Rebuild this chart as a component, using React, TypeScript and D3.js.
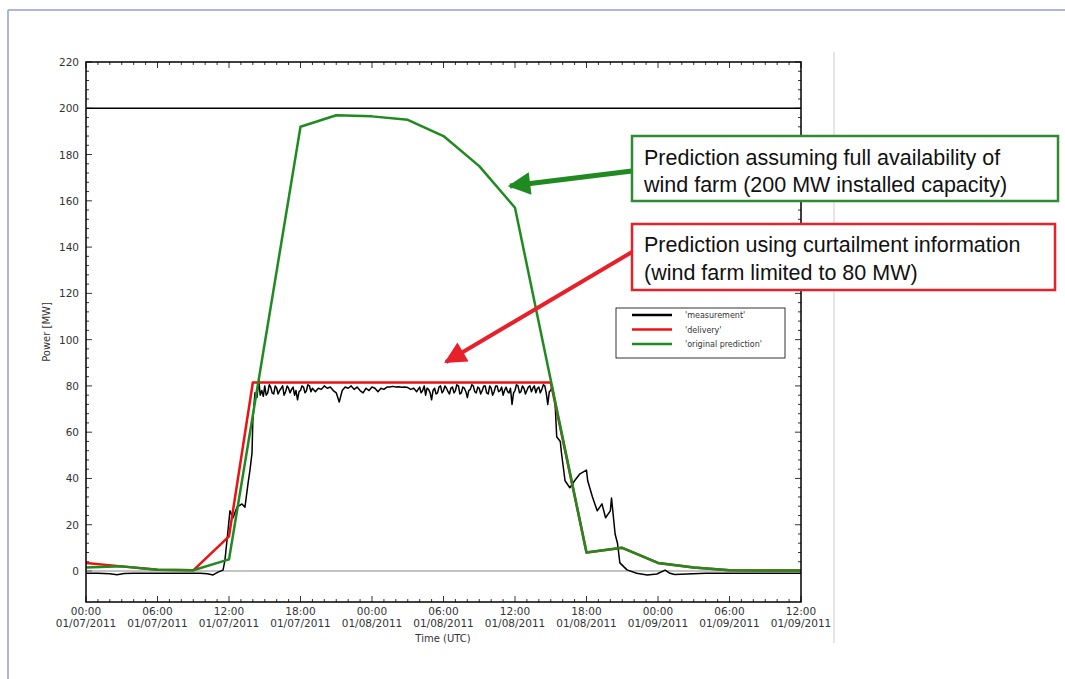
import React from "react";
import * as d3 from "d3";

// hours since 00:00 01/07/2011
const xTickLabels: [number, string, string][] = [
  [0, "00:00", "01/07/2011"],
  [6, "06:00", "01/07/2011"],
  [12, "12:00", "01/07/2011"],
  [18, "18:00", "01/07/2011"],
  [24, "00:00", "01/08/2011"],
  [30, "06:00", "01/08/2011"],
  [36, "12:00", "01/08/2011"],
  [42, "18:00", "01/08/2011"],
  [48, "00:00", "01/09/2011"],
  [54, "06:00", "01/09/2011"],
  [60, "12:00", "01/09/2011"],
];
const yTicks = [0, 20, 40, 60, 80, 100, 120, 140, 160, 180, 200, 220];

const originalPrediction: [number, number][] = [
  [0, 1.5], [3, 2], [6, 0.5], [9, 0.3], [12, 5], [18, 192], [21, 197], [24, 196.5],
  [27, 195], [30, 188], [33, 175], [36, 157], [42, 8], [45, 10], [48, 3.5],
  [51, 1.5], [54, 0.3], [60, 0.2],
];

const delivery: [number, number][] = [
  [0, 3.5], [3, 2], [6, 0.5], [9, 0.3], [12, 15], [14, 81.5], [39, 81.5],
  [42, 8], [45, 10], [48, 3.5], [51, 1.5], [54, 0.3], [60, 0.2],
];

const measurement: [number, number][] = [
  [0, -1], [1, -1], [2, -1.2], [2.6, -1.6], [3.2, -1.1], [4, -1], [6, -1], [8, -1], [9.57, -1],
  [10.2, -1.2], [10.66, -1.7], [11.08, -0.5], [11.5, 0.4], [11.66, 4.7], [11.92, 17.7],
  [12.08, 26], [12.34, 23], [12.67, 27.6], [13.09, 29], [13.34, 27.6], [13.6, 38],
  [13.76, 43.6], [13.93, 51], [14.0, 65], [14.18, 77], [14.35, 75], [14.5, 82.5],
  [14.62, 76], [14.75, 78], [14.88, 75.5], [15.0, 80], [15.12, 76], [15.25, 77],
  [15.38, 80.5], [15.5, 79.5], [15.62, 77], [15.75, 76.5], [15.88, 80], [16.0, 79],
  [16.12, 76.5], [16.25, 78], [16.38, 79], [16.5, 80], [16.62, 76], [16.75, 77.5],
  [16.88, 80], [17.0, 79], [17.12, 77], [17.25, 78.5], [17.38, 79.5], [17.5, 76],
  [17.62, 78], [17.75, 74], [17.88, 77.5], [18.0, 78], [18.12, 80], [18.25, 79.5],
  [18.38, 77], [18.5, 78], [18.62, 80.5], [18.75, 80], [18.88, 77.5], [19.0, 79],
  [19.25, 77.5], [19.5, 79], [19.75, 78.5], [20.0, 80], [20.25, 79], [20.5, 79.5],
  [20.75, 78], [21.0, 77], [21.25, 73], [21.5, 78], [21.75, 79.5], [22.0, 79],
  [22.25, 80], [22.5, 78.5], [22.75, 79.5], [23.0, 78], [23.25, 77], [23.5, 79],
  [23.75, 78], [24.0, 79.5], [24.25, 79], [24.5, 77.5], [24.75, 79], [25.0, 78.5],
  [25.25, 79.5], [25.5, 79.5], [25.75, 79.8], [26.0, 79.5], [26.25, 79.6], [26.5, 79.4],
  [26.75, 79.5], [27.0, 79.3], [27.25, 78.5], [27.5, 79], [27.75, 77.5], [28.0, 79.5],
  [28.12, 77], [28.25, 78], [28.38, 80], [28.5, 76], [28.62, 79], [28.75, 78.5],
  [28.88, 77], [29.0, 74], [29.12, 78], [29.25, 79], [29.38, 76.5], [29.5, 77],
  [29.62, 79.5], [29.75, 80], [29.88, 77], [30.0, 78], [30.12, 80], [30.25, 79],
  [30.38, 77.5], [30.5, 76.5], [30.62, 79], [30.75, 79.5], [30.88, 77], [31.0, 78],
  [31.12, 80.5], [31.25, 80], [31.38, 76.5], [31.5, 77], [31.62, 79.5], [31.75, 79],
  [31.88, 77.5], [32.0, 75], [32.12, 78], [32.25, 78.5], [32.38, 80.5], [32.5, 80],
  [32.62, 77.5], [32.75, 77], [32.88, 79.5], [33.0, 79], [33.12, 76.5], [33.25, 78],
  [33.38, 80], [33.5, 80], [33.62, 77], [33.75, 76.5], [33.88, 80], [34.0, 79],
  [34.12, 76], [34.25, 77.5], [34.38, 80], [34.5, 80], [34.62, 77.5], [34.75, 78],
  [34.88, 79.5], [35.0, 76], [35.12, 78], [35.25, 79.5], [35.38, 77.5], [35.5, 77],
  [35.62, 79], [35.75, 72], [35.88, 77], [36.0, 78], [36.12, 80.5], [36.25, 80],
  [36.38, 77], [36.5, 77.5], [36.62, 80], [36.75, 79], [36.88, 76.5], [37.0, 78],
  [37.12, 79.5], [37.25, 80], [37.38, 77.5], [37.5, 79], [37.62, 80], [37.75, 77],
  [37.88, 79], [38.0, 79.5], [38.12, 77], [38.25, 78.5], [38.38, 80.5], [38.5, 80],
  [38.62, 77], [38.75, 72], [38.88, 77.5], [39.0, 78], [39.12, 80], [39.25, 76],
  [39.36, 73], [39.5, 58], [39.8, 56],
  [39.9, 51], [40.2, 39], [40.6, 36], [41.0, 39], [41.45, 42], [42.0, 43.6],
  [42.1, 39], [42.5, 32], [42.9, 26], [43.3, 29], [43.6, 23], [44.0, 26], [44.1, 31.5],
  [44.4, 16], [44.6, 12], [44.8, 3.5], [45.4, 0.5], [46.2, -1], [47.1, -1.7],
  [47.9, -1.3], [48.6, 0.4], [49.0, -1], [49.4, -1.5], [52, -1], [56, -1], [60, -1],
];

const legendItems: [string, string][] = [
  ["'measurement'", "#000000"],
  ["'delivery'", "#ee1111"],
  ["'original prediction'", "#1f8a1f"],
];

const W = 1065;
const H = 679;
const left = 86, right = 801, top = 62, bottom = 602;

export default function App() {
  const x = d3.scaleLinear().domain([0, 60]).range([left, right]);
  const y = d3.scaleLinear().domain([-13.4, 220]).range([bottom, top]);
  const line = d3.line<[number, number]>().x((d) => x(d[0])).y((d) => y(d[1]));
  const minorX = d3.range(0, 61, 1);
  const minorY = d3.range(0, 221, 4);
  const tickFont = "DejaVu Sans, sans-serif";
  const annFont = "Liberation Sans, Arial, sans-serif";

  return (
    <svg width={W} height={H} style={{ position: "absolute", left: 0, top: 0, background: "#fff" }}>
      {/* slide border */}
      <line x1={8} y1={10} x2={W} y2={10} stroke="#9a9ad8" strokeWidth={1.5} />
      <line x1={8} y1={10} x2={8} y2={H} stroke="#9a9ad8" strokeWidth={1.5} />
      <line x1={834} y1={52} x2={834} y2={643} stroke="#cccccc" strokeWidth={1} />

      <defs>
        <clipPath id="plotclip">
          <rect x={left} y={top} width={right - left} height={bottom - top} />
        </clipPath>
      </defs>

      {/* ticks */}
      {minorX.map((h) => {
        const major = h % 6 === 0;
        const len = major ? 6 : 3;
        return (
          <g key={"xt" + h} stroke="#000" strokeWidth={0.8}>
            <line x1={x(h)} x2={x(h)} y1={bottom} y2={bottom - len} />
            <line x1={x(h)} x2={x(h)} y1={top} y2={top + len} />
          </g>
        );
      })}
      {minorY.map((v) => {
        const major = v % 20 === 0;
        const len = major ? 6 : 3;
        return (
          <g key={"yt" + v} stroke="#000" strokeWidth={0.8}>
            <line x1={left} x2={left + len} y1={y(v)} y2={y(v)} />
            <line x1={right} x2={right - len} y1={y(v)} y2={y(v)} />
          </g>
        );
      })}

      {/* zero line and capacity line */}
      <line x1={left} x2={right} y1={y(0)} y2={y(0)} stroke="#888" strokeWidth={1} />
      <line x1={left} x2={right} y1={y(200)} y2={y(200)} stroke="#000" strokeWidth={1.5} />

      <g clipPath="url(#plotclip)" fill="none" strokeLinejoin="round">
        <path d={line(measurement) || ""} stroke="#000" strokeWidth={1.5} />
        <path d={line(delivery) || ""} stroke="#ee1111" strokeWidth={2.5} />
        <path d={line(originalPrediction) || ""} stroke="#1f8a1f" strokeWidth={2.5} />
      </g>

      <rect x={left} y={top} width={right - left} height={bottom - top} fill="none" stroke="#000" strokeWidth={1.5} />

      {/* y tick labels */}
      {yTicks.map((v) => (
        <text key={"yl" + v} x={left - 7} y={y(v) + 4} textAnchor="end" fontSize={10.5} fill="#333" fontFamily={tickFont}>
          {v}
        </text>
      ))}
      {/* x tick labels */}
      {xTickLabels.map(([h, t, d]) => (
        <g key={"xl" + h} fontSize={10.5} fill="#333" fontFamily={tickFont} textAnchor="middle">
          <text x={x(h)} y={615}>{t}</text>
          <text x={x(h)} y={627}>{d}</text>
        </g>
      ))}
      <text x={443} y={642} textAnchor="middle" fontSize={10} fill="#333" fontFamily={tickFont}>Time (UTC)</text>
      <text transform={`translate(50,${(top + bottom) / 2 + 0}) rotate(-90)`} textAnchor="middle" fontSize={10} fill="#333" fontFamily={tickFont}>Power [MW]</text>

      {/* legend */}
      <rect x={616} y={308} width={169} height={50} fill="#fff" stroke="#000" strokeWidth={0.8} />
      {legendItems.map(([label, color], i) => (
        <g key={label}>
          <line x1={632} x2={672} y1={315 + i * 14.5} y2={315 + i * 14.5} stroke={color} strokeWidth={2.5} />
          <text x={685} y={318 + i * 14.5} fontSize={8} fill="#333" fontFamily={tickFont}>{label}</text>
        </g>
      ))}

      {/* annotations */}
      <defs>
        <marker id="ag" viewBox="0 0 10 10" refX={9} refY={5} markerWidth={5.5} markerHeight={4.5} orient="auto" markerUnits="strokeWidth">
          <path d="M0,0 L10,5 L0,10 z" fill="#1f8a1f" />
        </marker>
        <marker id="ar" viewBox="0 0 10 10" refX={9} refY={5} markerWidth={6.5} markerHeight={5.5} orient="auto" markerUnits="strokeWidth">
          <path d="M0,0 L10,5 L0,10 z" fill="#e8202a" />
        </marker>
      </defs>
      <line x1={632} y1={171} x2={510} y2={186} stroke="#1f8a1f" strokeWidth={5} markerEnd="url(#ag)" />
      <line x1={632} y1={252} x2={446} y2={362} stroke="#e8202a" strokeWidth={4} markerEnd="url(#ar)" />

      <rect x={632} y={136} width={426} height={65} fill="#fff" stroke="#2e8b30" strokeWidth={2.5} />
      <text x={644} y={165} fontSize={21.5} fill="#111" fontFamily={annFont}>Prediction assuming full availability of</text>
      <text x={644} y={192} fontSize={21.5} fill="#111" fontFamily={annFont}>wind farm (200 MW installed capacity)</text>

      <rect x={632} y={224} width={423} height={66} fill="#fff" stroke="#e8202a" strokeWidth={2.5} />
      <text x={644} y={252} fontSize={21.5} fill="#111" fontFamily={annFont}>Prediction using curtailment information</text>
      <text x={644} y={280} fontSize={21.5} fill="#111" fontFamily={annFont}>(wind farm limited to 80 MW)</text>
    </svg>
  );
}
